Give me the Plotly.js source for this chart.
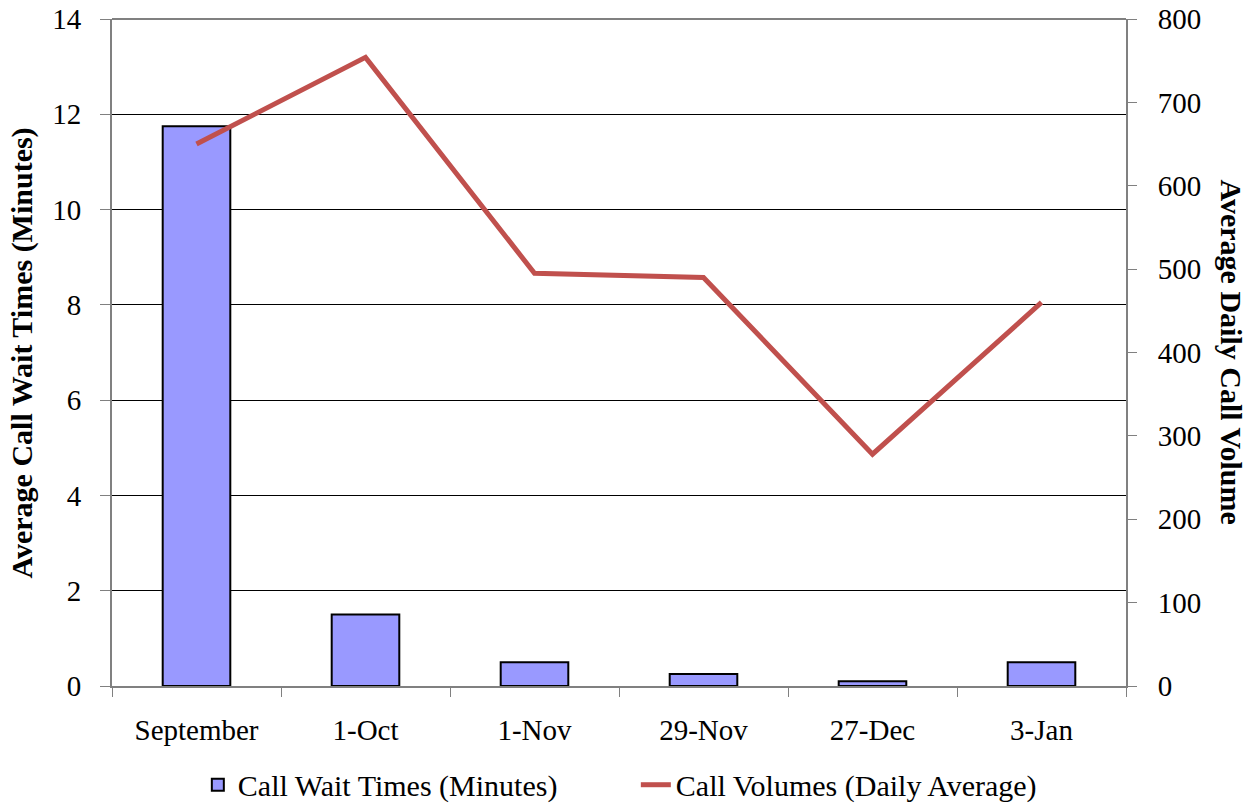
<!DOCTYPE html>
<html>
<head>
<meta charset="utf-8">
<script src="https://cdn.plot.ly/plotly-3.0.1.min.js"></script>
<style>html,body{margin:0;padding:0;background:#fff;}#chart{width:1255px;height:803px;}</style>
</head>
<body>
<div id="chart"></div>
<script>
const categories = ["September", "1-Oct", "1-Nov", "29-Nov", "27-Dec", "3-Jan"];
const waitTimes = [11.75, 1.5, 0.5, 0.25, 0.1, 0.5];
const callVolumes = [650, 754, 495, 490, 278, 460];
const leftTicks = [0, 2, 4, 6, 8, 10, 12, 14];
const rightTicks = [0, 100, 200, 300, 400, 500, 600, 700, 800];

const fam = "'Liberation Serif', 'Times New Roman', serif";
const tickFont = {family: fam, size: 29, color: "#000"};
const titleFont = {family: fam, size: 30, color: "#000"};
const legendFont = {family: fam, size: 30, color: "#000"};

const traces = [
  {
    type: "bar", x: categories, y: waitTimes, name: "Call Wait Times (Minutes)",
    marker: {color: "#9999FF", line: {color: "#000", width: 2}}, width: 0.4
  },
  {
    type: "scatter", mode: "lines", x: categories, y: callVolumes, yaxis: "y2",
    name: "Call Volumes (Daily Average)", line: {color: "#C0504D", width: 5}
  }
];

const layout = {
  width: 1255, height: 803,
  margin: {l: 112, r: 129, t: 19, b: 117, autoexpand: false},
  paper_bgcolor: "#fff", plot_bgcolor: "#fff",
  font: tickFont,
  showlegend: true,
  legend: {orientation: "h", x: 0.5166, xanchor: "center", y: -0.148, yanchor: "middle",
           font: legendFont, traceorder: "normal", entrywidth: 393, entrywidthmode: "pixels"},
  xaxis: {
    type: "category", tickson: "boundaries", ticks: "outside", ticklen: 9, tickcolor: "#808080",
    showline: true, linecolor: "#808080", linewidth: 2, showgrid: false, tickfont: tickFont,
    range: [-0.5, 5.5], ticklabelstandoff: 17, automargin: false
  },
  yaxis: {
    range: [0, 14], tickvals: leftTicks, ticks: "outside", ticklen: 10, tickcolor: "#808080",
    showline: true, linecolor: "#808080", linewidth: 2, gridcolor: "#000", gridwidth: 1,
    zeroline: false, tickfont: tickFont, ticklabelstandoff: 13, automargin: false
  },
  yaxis2: {
    range: [0, 800], tickvals: rightTicks, overlaying: "y", side: "right",
    ticks: "outside", ticklen: 9, tickcolor: "#808080",
    showline: true, linecolor: "#808080", linewidth: 2, showgrid: false, zeroline: false,
    tickfont: tickFont, ticklabelstandoff: 15, automargin: false
  },
  shapes: [
    {type: "line", xref: "paper", yref: "paper", x0: 0, x1: 1, y0: 1, y1: 1,
     line: {color: "#808080", width: 2}}
  ],
  annotations: [
    {text: "<b>Average Call Wait Times (Minutes)</b>", xref: "paper", yref: "paper",
     x: -0.0888, y: 0.5, textangle: -90, showarrow: false, font: titleFont,
     xanchor: "center", yanchor: "middle"},
    {text: "<b>Average Daily Call Volume</b>", xref: "paper", yref: "paper",
     x: 1.1045, y: 0.5, textangle: 90, showarrow: false, font: titleFont,
     xanchor: "center", yanchor: "middle"}
  ]
};

Plotly.newPlot("chart", traces, layout, {displayModeBar: false, staticPlot: true});
</script>
</body>
</html>
